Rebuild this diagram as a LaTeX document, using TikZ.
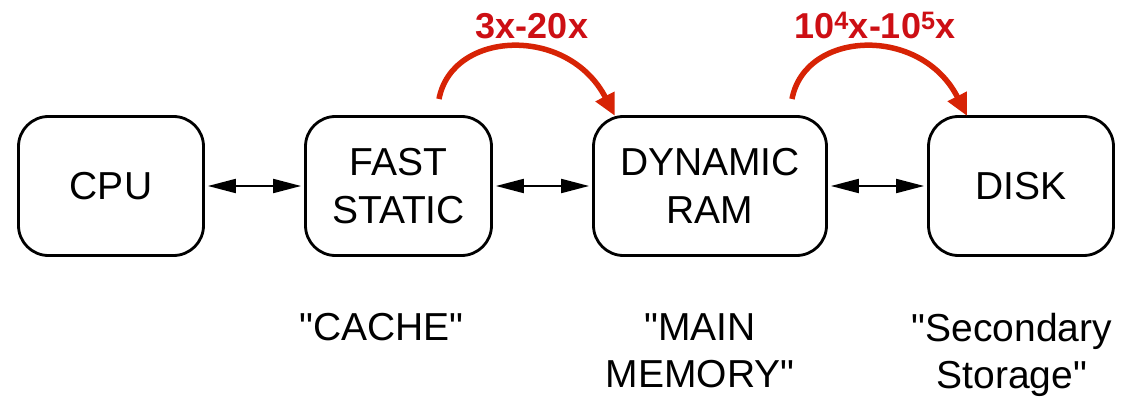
\documentclass[tikz,border=0pt]{standalone}
\usepackage{fontspec}
\setmainfont{Liberation Sans}[Ligatures=TeXOff]
\usetikzlibrary{arrows.meta}
\definecolor{arrred}{RGB}{215,35,5}
\definecolor{txtred}{RGB}{205,15,20}
\begin{document}
\begin{tikzpicture}[x=1pt,y=-1pt,
 mem/.style={draw=black, line width=2.8pt, rounded corners=30pt, minimum width=#1, minimum height=139pt, align=center, inner sep=0pt, font=\fontsize{39}{48}\selectfont},
 link/.style={line width=2pt, {Triangle[length=28pt,width=14pt]}-{Triangle[length=28pt,width=14pt]}, shorten <=3pt, shorten >=3pt},
 jump/.style={draw=arrred, line width=5.5pt, -{Triangle[length=22pt,width=20pt]}},
 cost/.style={text=txtred, font=\bfseries\fontsize{36}{40}\selectfont, anchor=base, inner sep=0pt},
 alias/.style={align=center, anchor=north, inner sep=0pt, font=\fontsize{39}{47}\selectfont}]
\useasboundingbox (0,0) rectangle (1125,401);
\node[mem=185pt] (cpu) at (111,186) {\raisebox{-6pt}{CPU}};
\node[mem=186pt] (fast) at (398.5,186) {FAST\\STATIC};
\node[mem=233pt] (dyn) at (710,186) {DYNAMIC\\RAM};
\node[mem=185pt] (disk) at (1021,186) {DISK};
\draw[link] (cpu) -- (fast);
\draw[link] (fast) -- (dyn);
\draw[link] (dyn) -- (disk);
\coordinate (t1) at (439,99);
\coordinate (h1) at (615,116);
\coordinate (t2) at (792,99);
\coordinate (h2) at (967,116);
\draw[jump] (t1) .. controls (452,30) and (568,25) .. (h1);
\draw[jump] (t2) .. controls (805,30) and (921,25) .. (h2);
\node[cost] (c1) at (532,39) {3x-20x};
\node[cost] (c2) at (875,39) {10\textsuperscript{4}x-10\textsuperscript{5}x};
\node[alias] (cache) at (381.5,313) {"CACHE"};
\node[alias] (main) at (700,313) {"MAIN\\MEMORY"};
\node[alias] (sec) at (1012,313) {"Secondary\\Storage"};
\end{tikzpicture}
\end{document}
